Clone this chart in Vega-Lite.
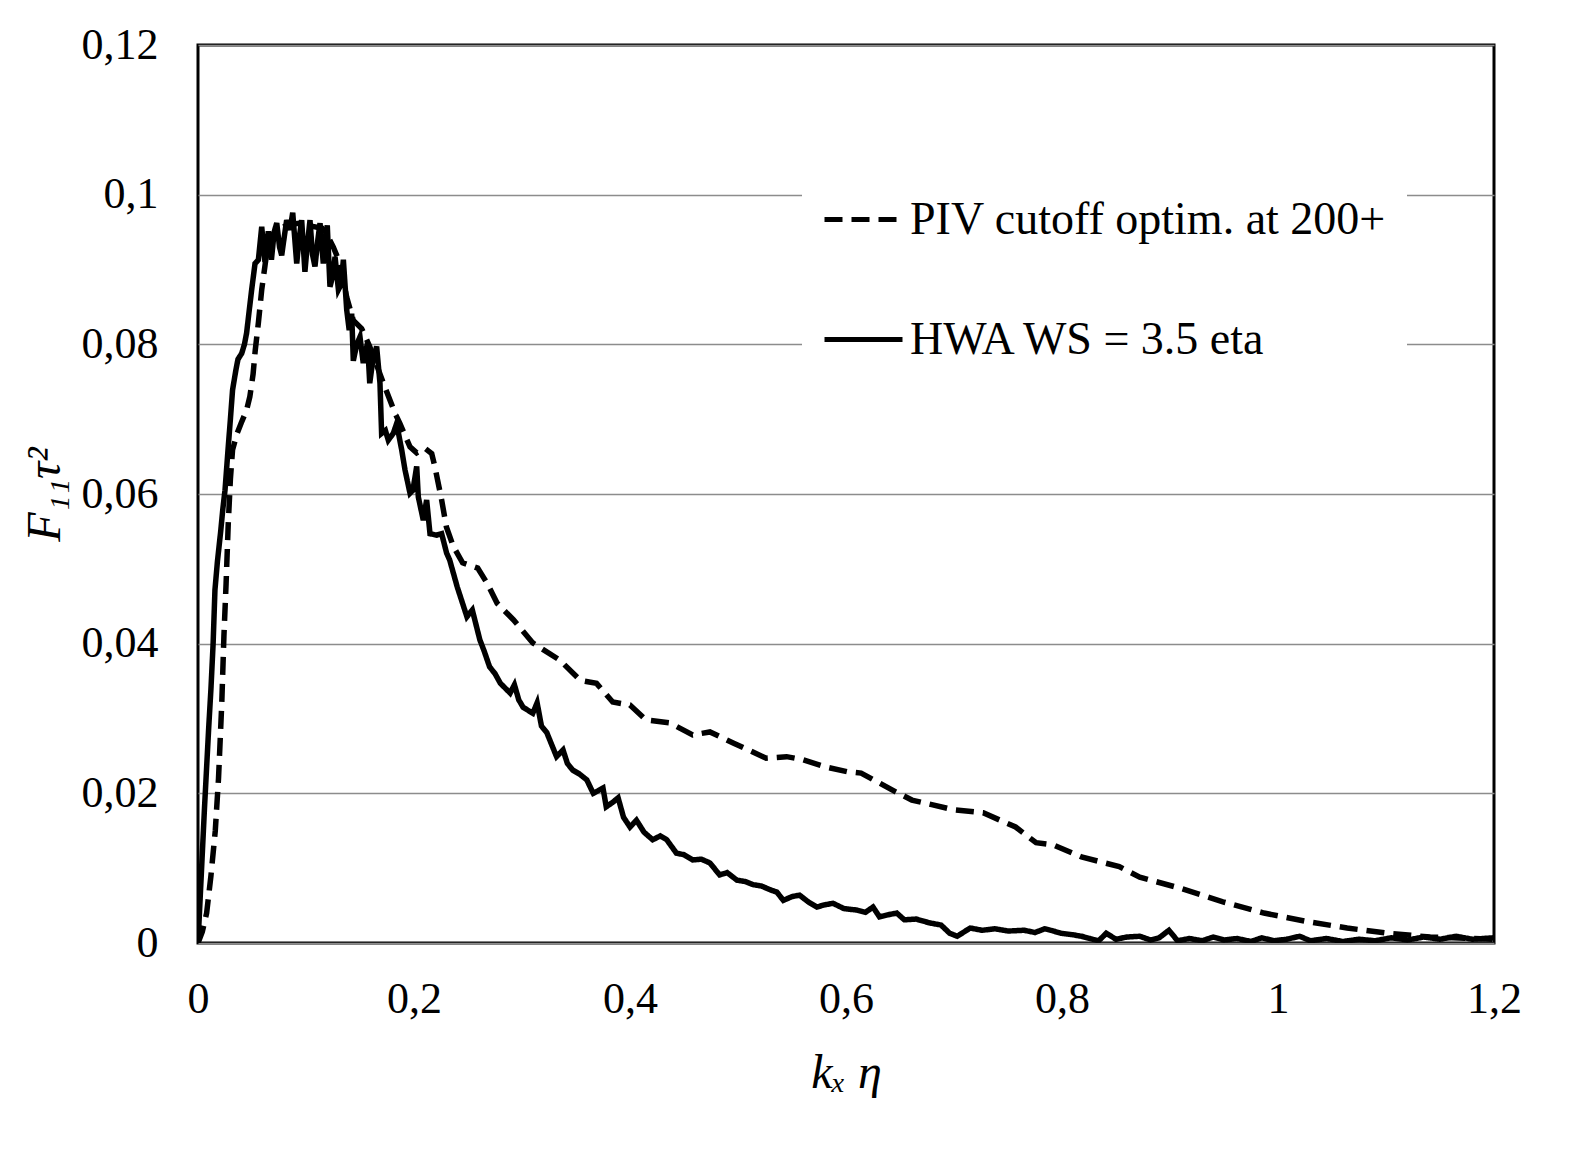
{
  "$schema": "https://vega.github.io/schema/vega-lite/v6.json",
  "width": 1296,
  "height": 898,
  "autosize": {"type": "none"},
  "padding": {"left": 198, "top": 45, "right": 77, "bottom": 217},
  "background": "white",
  "config": {
    "font": "Liberation Serif",
    "view": {"stroke": "black", "strokeWidth": 3},
    "axis": {
      "labelFont": "Liberation Serif",
      "labelFontSize": 44,
      "labelColor": "black",
      "labelFlush": false,
      "titleFont": "Liberation Serif",
      "titleFontSize": 48,
      "titleFontStyle": "italic",
      "titleFontWeight": "normal",
      "titleColor": "black",
      "ticks": false,
      "domain": false
    },
    "legend": {"labelFont": "Liberation Serif"}
  },
  "datasets": {
    "spectra": [
      {"s": "HWA WS = 3.5 eta", "k": 0, "F": 0},
      {"s": "HWA WS = 3.5 eta", "k": 0.002, "F": 0.006},
      {"s": "HWA WS = 3.5 eta", "k": 0.004, "F": 0.012},
      {"s": "HWA WS = 3.5 eta", "k": 0.006, "F": 0.018},
      {"s": "HWA WS = 3.5 eta", "k": 0.008, "F": 0.0235},
      {"s": "HWA WS = 3.5 eta", "k": 0.010, "F": 0.029},
      {"s": "HWA WS = 3.5 eta", "k": 0.012, "F": 0.034},
      {"s": "HWA WS = 3.5 eta", "k": 0.014, "F": 0.040},
      {"s": "HWA WS = 3.5 eta", "k": 0.0157, "F": 0.0472},
      {"s": "HWA WS = 3.5 eta", "k": 0.018, "F": 0.051},
      {"s": "HWA WS = 3.5 eta", "k": 0.021, "F": 0.055},
      {"s": "HWA WS = 3.5 eta", "k": 0.023, "F": 0.058},
      {"s": "HWA WS = 3.5 eta", "k": 0.025, "F": 0.0605},
      {"s": "HWA WS = 3.5 eta", "k": 0.028, "F": 0.0663},
      {"s": "HWA WS = 3.5 eta", "k": 0.030, "F": 0.070},
      {"s": "HWA WS = 3.5 eta", "k": 0.032, "F": 0.0739},
      {"s": "HWA WS = 3.5 eta", "k": 0.035, "F": 0.0765},
      {"s": "HWA WS = 3.5 eta", "k": 0.037, "F": 0.078},
      {"s": "HWA WS = 3.5 eta", "k": 0.0405, "F": 0.0788},
      {"s": "HWA WS = 3.5 eta", "k": 0.043, "F": 0.080},
      {"s": "HWA WS = 3.5 eta", "k": 0.045, "F": 0.0815},
      {"s": "HWA WS = 3.5 eta", "k": 0.047, "F": 0.084},
      {"s": "HWA WS = 3.5 eta", "k": 0.0497, "F": 0.0873},
      {"s": "HWA WS = 3.5 eta", "k": 0.0528, "F": 0.0908},
      {"s": "HWA WS = 3.5 eta", "k": 0.0559, "F": 0.0913},
      {"s": "HWA WS = 3.5 eta", "k": 0.059, "F": 0.0957},
      {"s": "HWA WS = 3.5 eta", "k": 0.062, "F": 0.091},
      {"s": "HWA WS = 3.5 eta", "k": 0.0651, "F": 0.0951},
      {"s": "HWA WS = 3.5 eta", "k": 0.068, "F": 0.0913},
      {"s": "HWA WS = 3.5 eta", "k": 0.0705, "F": 0.095},
      {"s": "HWA WS = 3.5 eta", "k": 0.0729, "F": 0.0962},
      {"s": "HWA WS = 3.5 eta", "k": 0.0755, "F": 0.093},
      {"s": "HWA WS = 3.5 eta", "k": 0.0775, "F": 0.0919},
      {"s": "HWA WS = 3.5 eta", "k": 0.080, "F": 0.0945},
      {"s": "HWA WS = 3.5 eta", "k": 0.0821, "F": 0.0966},
      {"s": "HWA WS = 3.5 eta", "k": 0.0852, "F": 0.0953},
      {"s": "HWA WS = 3.5 eta", "k": 0.0877, "F": 0.0976},
      {"s": "HWA WS = 3.5 eta", "k": 0.0914, "F": 0.0908},
      {"s": "HWA WS = 3.5 eta", "k": 0.0935, "F": 0.094},
      {"s": "HWA WS = 3.5 eta", "k": 0.096, "F": 0.0966},
      {"s": "HWA WS = 3.5 eta", "k": 0.099, "F": 0.0897},
      {"s": "HWA WS = 3.5 eta", "k": 0.101, "F": 0.093},
      {"s": "HWA WS = 3.5 eta", "k": 0.1037, "F": 0.0966},
      {"s": "HWA WS = 3.5 eta", "k": 0.106, "F": 0.092},
      {"s": "HWA WS = 3.5 eta", "k": 0.1083, "F": 0.0904},
      {"s": "HWA WS = 3.5 eta", "k": 0.111, "F": 0.094},
      {"s": "HWA WS = 3.5 eta", "k": 0.113, "F": 0.0962},
      {"s": "HWA WS = 3.5 eta", "k": 0.116, "F": 0.0908},
      {"s": "HWA WS = 3.5 eta", "k": 0.1197, "F": 0.0959},
      {"s": "HWA WS = 3.5 eta", "k": 0.1222, "F": 0.0877},
      {"s": "HWA WS = 3.5 eta", "k": 0.1245, "F": 0.089},
      {"s": "HWA WS = 3.5 eta", "k": 0.1269, "F": 0.0917},
      {"s": "HWA WS = 3.5 eta", "k": 0.130, "F": 0.0873},
      {"s": "HWA WS = 3.5 eta", "k": 0.1325, "F": 0.088},
      {"s": "HWA WS = 3.5 eta", "k": 0.1346, "F": 0.0913},
      {"s": "HWA WS = 3.5 eta", "k": 0.1377, "F": 0.0846},
      {"s": "HWA WS = 3.5 eta", "k": 0.140, "F": 0.0819},
      {"s": "HWA WS = 3.5 eta", "k": 0.1423, "F": 0.0841},
      {"s": "HWA WS = 3.5 eta", "k": 0.1438, "F": 0.0778},
      {"s": "HWA WS = 3.5 eta", "k": 0.147, "F": 0.080},
      {"s": "HWA WS = 3.5 eta", "k": 0.150, "F": 0.081},
      {"s": "HWA WS = 3.5 eta", "k": 0.153, "F": 0.0775},
      {"s": "HWA WS = 3.5 eta", "k": 0.157, "F": 0.0802},
      {"s": "HWA WS = 3.5 eta", "k": 0.159, "F": 0.0748},
      {"s": "HWA WS = 3.5 eta", "k": 0.162, "F": 0.078},
      {"s": "HWA WS = 3.5 eta", "k": 0.1654, "F": 0.0797},
      {"s": "HWA WS = 3.5 eta", "k": 0.1685, "F": 0.0748},
      {"s": "HWA WS = 3.5 eta", "k": 0.170, "F": 0.0681},
      {"s": "HWA WS = 3.5 eta", "k": 0.1735, "F": 0.0685},
      {"s": "HWA WS = 3.5 eta", "k": 0.1762, "F": 0.0672},
      {"s": "HWA WS = 3.5 eta", "k": 0.1808, "F": 0.0681},
      {"s": "HWA WS = 3.5 eta", "k": 0.1839, "F": 0.0694},
      {"s": "HWA WS = 3.5 eta", "k": 0.1886, "F": 0.0659},
      {"s": "HWA WS = 3.5 eta", "k": 0.1917, "F": 0.0632},
      {"s": "HWA WS = 3.5 eta", "k": 0.1963, "F": 0.0601},
      {"s": "HWA WS = 3.5 eta", "k": 0.199, "F": 0.0605},
      {"s": "HWA WS = 3.5 eta", "k": 0.2025, "F": 0.0637},
      {"s": "HWA WS = 3.5 eta", "k": 0.204, "F": 0.0596},
      {"s": "HWA WS = 3.5 eta", "k": 0.2086, "F": 0.0565},
      {"s": "HWA WS = 3.5 eta", "k": 0.2117, "F": 0.0592},
      {"s": "HWA WS = 3.5 eta", "k": 0.2148, "F": 0.0547},
      {"s": "HWA WS = 3.5 eta", "k": 0.221, "F": 0.0545},
      {"s": "HWA WS = 3.5 eta", "k": 0.2256, "F": 0.0547},
      {"s": "HWA WS = 3.5 eta", "k": 0.2302, "F": 0.0521},
      {"s": "HWA WS = 3.5 eta", "k": 0.233, "F": 0.0512},
      {"s": "HWA WS = 3.5 eta", "k": 0.240, "F": 0.0476},
      {"s": "HWA WS = 3.5 eta", "k": 0.249, "F": 0.0436},
      {"s": "HWA WS = 3.5 eta", "k": 0.254, "F": 0.0445},
      {"s": "HWA WS = 3.5 eta", "k": 0.261, "F": 0.0405},
      {"s": "HWA WS = 3.5 eta", "k": 0.265, "F": 0.039},
      {"s": "HWA WS = 3.5 eta", "k": 0.270, "F": 0.0369},
      {"s": "HWA WS = 3.5 eta", "k": 0.275, "F": 0.036},
      {"s": "HWA WS = 3.5 eta", "k": 0.280, "F": 0.0347},
      {"s": "HWA WS = 3.5 eta", "k": 0.289, "F": 0.0334},
      {"s": "HWA WS = 3.5 eta", "k": 0.293, "F": 0.0345},
      {"s": "HWA WS = 3.5 eta", "k": 0.297, "F": 0.0325},
      {"s": "HWA WS = 3.5 eta", "k": 0.301, "F": 0.0315},
      {"s": "HWA WS = 3.5 eta", "k": 0.310, "F": 0.0307},
      {"s": "HWA WS = 3.5 eta", "k": 0.314, "F": 0.0321},
      {"s": "HWA WS = 3.5 eta", "k": 0.318, "F": 0.029},
      {"s": "HWA WS = 3.5 eta", "k": 0.323, "F": 0.0281},
      {"s": "HWA WS = 3.5 eta", "k": 0.332, "F": 0.0249},
      {"s": "HWA WS = 3.5 eta", "k": 0.338, "F": 0.0258},
      {"s": "HWA WS = 3.5 eta", "k": 0.342, "F": 0.024},
      {"s": "HWA WS = 3.5 eta", "k": 0.347, "F": 0.0231},
      {"s": "HWA WS = 3.5 eta", "k": 0.353, "F": 0.0226},
      {"s": "HWA WS = 3.5 eta", "k": 0.360, "F": 0.0218},
      {"s": "HWA WS = 3.5 eta", "k": 0.366, "F": 0.0200},
      {"s": "HWA WS = 3.5 eta", "k": 0.375, "F": 0.0207},
      {"s": "HWA WS = 3.5 eta", "k": 0.378, "F": 0.0182},
      {"s": "HWA WS = 3.5 eta", "k": 0.384, "F": 0.0188},
      {"s": "HWA WS = 3.5 eta", "k": 0.389, "F": 0.0194},
      {"s": "HWA WS = 3.5 eta", "k": 0.394, "F": 0.0168},
      {"s": "HWA WS = 3.5 eta", "k": 0.400, "F": 0.0155},
      {"s": "HWA WS = 3.5 eta", "k": 0.406, "F": 0.0164},
      {"s": "HWA WS = 3.5 eta", "k": 0.413, "F": 0.0148},
      {"s": "HWA WS = 3.5 eta", "k": 0.421, "F": 0.0138},
      {"s": "HWA WS = 3.5 eta", "k": 0.428, "F": 0.0143},
      {"s": "HWA WS = 3.5 eta", "k": 0.434, "F": 0.0138},
      {"s": "HWA WS = 3.5 eta", "k": 0.443, "F": 0.0120},
      {"s": "HWA WS = 3.5 eta", "k": 0.450, "F": 0.0118},
      {"s": "HWA WS = 3.5 eta", "k": 0.458, "F": 0.0111},
      {"s": "HWA WS = 3.5 eta", "k": 0.466, "F": 0.0112},
      {"s": "HWA WS = 3.5 eta", "k": 0.474, "F": 0.0107},
      {"s": "HWA WS = 3.5 eta", "k": 0.483, "F": 0.0091},
      {"s": "HWA WS = 3.5 eta", "k": 0.490, "F": 0.0094},
      {"s": "HWA WS = 3.5 eta", "k": 0.499, "F": 0.0084},
      {"s": "HWA WS = 3.5 eta", "k": 0.507, "F": 0.0082},
      {"s": "HWA WS = 3.5 eta", "k": 0.514, "F": 0.0078},
      {"s": "HWA WS = 3.5 eta", "k": 0.522, "F": 0.0076},
      {"s": "HWA WS = 3.5 eta", "k": 0.530, "F": 0.0071},
      {"s": "HWA WS = 3.5 eta", "k": 0.536, "F": 0.0068},
      {"s": "HWA WS = 3.5 eta", "k": 0.542, "F": 0.0057},
      {"s": "HWA WS = 3.5 eta", "k": 0.550, "F": 0.0062},
      {"s": "HWA WS = 3.5 eta", "k": 0.557, "F": 0.0064},
      {"s": "HWA WS = 3.5 eta", "k": 0.565, "F": 0.0055},
      {"s": "HWA WS = 3.5 eta", "k": 0.573, "F": 0.0048},
      {"s": "HWA WS = 3.5 eta", "k": 0.580, "F": 0.0051},
      {"s": "HWA WS = 3.5 eta", "k": 0.588, "F": 0.0053},
      {"s": "HWA WS = 3.5 eta", "k": 0.598, "F": 0.0046},
      {"s": "HWA WS = 3.5 eta", "k": 0.610, "F": 0.0044},
      {"s": "HWA WS = 3.5 eta", "k": 0.618, "F": 0.0041},
      {"s": "HWA WS = 3.5 eta", "k": 0.625, "F": 0.0048},
      {"s": "HWA WS = 3.5 eta", "k": 0.631, "F": 0.0035},
      {"s": "HWA WS = 3.5 eta", "k": 0.640, "F": 0.0038},
      {"s": "HWA WS = 3.5 eta", "k": 0.647, "F": 0.0040},
      {"s": "HWA WS = 3.5 eta", "k": 0.654, "F": 0.0031},
      {"s": "HWA WS = 3.5 eta", "k": 0.665, "F": 0.0032},
      {"s": "HWA WS = 3.5 eta", "k": 0.677, "F": 0.0027},
      {"s": "HWA WS = 3.5 eta", "k": 0.688, "F": 0.0024},
      {"s": "HWA WS = 3.5 eta", "k": 0.696, "F": 0.0013},
      {"s": "HWA WS = 3.5 eta", "k": 0.703, "F": 0.0009},
      {"s": "HWA WS = 3.5 eta", "k": 0.715, "F": 0.002},
      {"s": "HWA WS = 3.5 eta", "k": 0.726, "F": 0.0017},
      {"s": "HWA WS = 3.5 eta", "k": 0.738, "F": 0.0019},
      {"s": "HWA WS = 3.5 eta", "k": 0.750, "F": 0.0016},
      {"s": "HWA WS = 3.5 eta", "k": 0.765, "F": 0.0017},
      {"s": "HWA WS = 3.5 eta", "k": 0.775, "F": 0.0014},
      {"s": "HWA WS = 3.5 eta", "k": 0.784, "F": 0.0019},
      {"s": "HWA WS = 3.5 eta", "k": 0.792, "F": 0.0016},
      {"s": "HWA WS = 3.5 eta", "k": 0.799, "F": 0.0013},
      {"s": "HWA WS = 3.5 eta", "k": 0.810, "F": 0.0011},
      {"s": "HWA WS = 3.5 eta", "k": 0.818, "F": 0.0009},
      {"s": "HWA WS = 3.5 eta", "k": 0.826, "F": 0.0006},
      {"s": "HWA WS = 3.5 eta", "k": 0.834, "F": 0.0003},
      {"s": "HWA WS = 3.5 eta", "k": 0.841, "F": 0.0013},
      {"s": "HWA WS = 3.5 eta", "k": 0.850, "F": 0.0005},
      {"s": "HWA WS = 3.5 eta", "k": 0.860, "F": 0.0008},
      {"s": "HWA WS = 3.5 eta", "k": 0.872, "F": 0.0009},
      {"s": "HWA WS = 3.5 eta", "k": 0.882, "F": 0.0004},
      {"s": "HWA WS = 3.5 eta", "k": 0.890, "F": 0.0007},
      {"s": "HWA WS = 3.5 eta", "k": 0.899, "F": 0.0017},
      {"s": "HWA WS = 3.5 eta", "k": 0.907, "F": 0.0003},
      {"s": "HWA WS = 3.5 eta", "k": 0.918, "F": 0.0006},
      {"s": "HWA WS = 3.5 eta", "k": 0.930, "F": 0.0003},
      {"s": "HWA WS = 3.5 eta", "k": 0.940, "F": 0.0008},
      {"s": "HWA WS = 3.5 eta", "k": 0.950, "F": 0.0004},
      {"s": "HWA WS = 3.5 eta", "k": 0.962, "F": 0.0006},
      {"s": "HWA WS = 3.5 eta", "k": 0.975, "F": 0.0002},
      {"s": "HWA WS = 3.5 eta", "k": 0.985, "F": 0.0007},
      {"s": "HWA WS = 3.5 eta", "k": 0.996, "F": 0.0003},
      {"s": "HWA WS = 3.5 eta", "k": 1.008, "F": 0.0005},
      {"s": "HWA WS = 3.5 eta", "k": 1.020, "F": 0.0009},
      {"s": "HWA WS = 3.5 eta", "k": 1.030, "F": 0.0003},
      {"s": "HWA WS = 3.5 eta", "k": 1.045, "F": 0.0006},
      {"s": "HWA WS = 3.5 eta", "k": 1.060, "F": 0.0002},
      {"s": "HWA WS = 3.5 eta", "k": 1.075, "F": 0.0005},
      {"s": "HWA WS = 3.5 eta", "k": 1.090, "F": 0.0003},
      {"s": "HWA WS = 3.5 eta", "k": 1.105, "F": 0.0007},
      {"s": "HWA WS = 3.5 eta", "k": 1.120, "F": 0.0004},
      {"s": "HWA WS = 3.5 eta", "k": 1.135, "F": 0.0008},
      {"s": "HWA WS = 3.5 eta", "k": 1.150, "F": 0.0005},
      {"s": "HWA WS = 3.5 eta", "k": 1.165, "F": 0.0009},
      {"s": "HWA WS = 3.5 eta", "k": 1.180, "F": 0.0005},
      {"s": "HWA WS = 3.5 eta", "k": 1.200, "F": 0.0007},
      {"s": "PIV cutoff optim. at 200+", "k": 0, "F": 0},
      {"s": "PIV cutoff optim. at 200+", "k": 0.004, "F": 0.0015},
      {"s": "PIV cutoff optim. at 200+", "k": 0.008, "F": 0.004},
      {"s": "PIV cutoff optim. at 200+", "k": 0.012, "F": 0.009},
      {"s": "PIV cutoff optim. at 200+", "k": 0.016, "F": 0.015},
      {"s": "PIV cutoff optim. at 200+", "k": 0.019, "F": 0.022},
      {"s": "PIV cutoff optim. at 200+", "k": 0.022, "F": 0.032},
      {"s": "PIV cutoff optim. at 200+", "k": 0.024, "F": 0.041},
      {"s": "PIV cutoff optim. at 200+", "k": 0.026, "F": 0.048},
      {"s": "PIV cutoff optim. at 200+", "k": 0.028, "F": 0.056},
      {"s": "PIV cutoff optim. at 200+", "k": 0.030, "F": 0.062},
      {"s": "PIV cutoff optim. at 200+", "k": 0.032, "F": 0.0659},
      {"s": "PIV cutoff optim. at 200+", "k": 0.036, "F": 0.068},
      {"s": "PIV cutoff optim. at 200+", "k": 0.040, "F": 0.0695},
      {"s": "PIV cutoff optim. at 200+", "k": 0.045, "F": 0.0712},
      {"s": "PIV cutoff optim. at 200+", "k": 0.048, "F": 0.073},
      {"s": "PIV cutoff optim. at 200+", "k": 0.051, "F": 0.076},
      {"s": "PIV cutoff optim. at 200+", "k": 0.053, "F": 0.0792},
      {"s": "PIV cutoff optim. at 200+", "k": 0.056, "F": 0.083},
      {"s": "PIV cutoff optim. at 200+", "k": 0.059, "F": 0.0873},
      {"s": "PIV cutoff optim. at 200+", "k": 0.062, "F": 0.0905},
      {"s": "PIV cutoff optim. at 200+", "k": 0.064, "F": 0.0926},
      {"s": "PIV cutoff optim. at 200+", "k": 0.068, "F": 0.0945},
      {"s": "PIV cutoff optim. at 200+", "k": 0.075, "F": 0.0955},
      {"s": "PIV cutoff optim. at 200+", "k": 0.085, "F": 0.096},
      {"s": "PIV cutoff optim. at 200+", "k": 0.095, "F": 0.0962},
      {"s": "PIV cutoff optim. at 200+", "k": 0.105, "F": 0.0958},
      {"s": "PIV cutoff optim. at 200+", "k": 0.115, "F": 0.0955},
      {"s": "PIV cutoff optim. at 200+", "k": 0.120, "F": 0.0945},
      {"s": "PIV cutoff optim. at 200+", "k": 0.1253, "F": 0.093},
      {"s": "PIV cutoff optim. at 200+", "k": 0.1315, "F": 0.0908},
      {"s": "PIV cutoff optim. at 200+", "k": 0.1377, "F": 0.0863},
      {"s": "PIV cutoff optim. at 200+", "k": 0.1438, "F": 0.0832},
      {"s": "PIV cutoff optim. at 200+", "k": 0.1515, "F": 0.0821},
      {"s": "PIV cutoff optim. at 200+", "k": 0.159, "F": 0.0797},
      {"s": "PIV cutoff optim. at 200+", "k": 0.166, "F": 0.077},
      {"s": "PIV cutoff optim. at 200+", "k": 0.173, "F": 0.0743},
      {"s": "PIV cutoff optim. at 200+", "k": 0.1824, "F": 0.0708},
      {"s": "PIV cutoff optim. at 200+", "k": 0.187, "F": 0.0694},
      {"s": "PIV cutoff optim. at 200+", "k": 0.1963, "F": 0.0663},
      {"s": "PIV cutoff optim. at 200+", "k": 0.2025, "F": 0.0655},
      {"s": "PIV cutoff optim. at 200+", "k": 0.2102, "F": 0.0661},
      {"s": "PIV cutoff optim. at 200+", "k": 0.2164, "F": 0.0654},
      {"s": "PIV cutoff optim. at 200+", "k": 0.2194, "F": 0.0636},
      {"s": "PIV cutoff optim. at 200+", "k": 0.2256, "F": 0.0592},
      {"s": "PIV cutoff optim. at 200+", "k": 0.230, "F": 0.0556},
      {"s": "PIV cutoff optim. at 200+", "k": 0.2364, "F": 0.053},
      {"s": "PIV cutoff optim. at 200+", "k": 0.245, "F": 0.0508},
      {"s": "PIV cutoff optim. at 200+", "k": 0.259, "F": 0.0501},
      {"s": "PIV cutoff optim. at 200+", "k": 0.268, "F": 0.048},
      {"s": "PIV cutoff optim. at 200+", "k": 0.277, "F": 0.0454},
      {"s": "PIV cutoff optim. at 200+", "k": 0.292, "F": 0.0432},
      {"s": "PIV cutoff optim. at 200+", "k": 0.310, "F": 0.0401},
      {"s": "PIV cutoff optim. at 200+", "k": 0.335, "F": 0.0378},
      {"s": "PIV cutoff optim. at 200+", "k": 0.354, "F": 0.0351},
      {"s": "PIV cutoff optim. at 200+", "k": 0.369, "F": 0.0347},
      {"s": "PIV cutoff optim. at 200+", "k": 0.384, "F": 0.0322},
      {"s": "PIV cutoff optim. at 200+", "k": 0.400, "F": 0.0318},
      {"s": "PIV cutoff optim. at 200+", "k": 0.415, "F": 0.0298},
      {"s": "PIV cutoff optim. at 200+", "k": 0.437, "F": 0.0294},
      {"s": "PIV cutoff optim. at 200+", "k": 0.458, "F": 0.0278},
      {"s": "PIV cutoff optim. at 200+", "k": 0.474, "F": 0.0282},
      {"s": "PIV cutoff optim. at 200+", "k": 0.496, "F": 0.0267},
      {"s": "PIV cutoff optim. at 200+", "k": 0.526, "F": 0.0247},
      {"s": "PIV cutoff optim. at 200+", "k": 0.545, "F": 0.0249},
      {"s": "PIV cutoff optim. at 200+", "k": 0.560, "F": 0.0245},
      {"s": "PIV cutoff optim. at 200+", "k": 0.582, "F": 0.0235},
      {"s": "PIV cutoff optim. at 200+", "k": 0.601, "F": 0.0229},
      {"s": "PIV cutoff optim. at 200+", "k": 0.614, "F": 0.0227},
      {"s": "PIV cutoff optim. at 200+", "k": 0.646, "F": 0.0202},
      {"s": "PIV cutoff optim. at 200+", "k": 0.661, "F": 0.0191},
      {"s": "PIV cutoff optim. at 200+", "k": 0.700, "F": 0.0178},
      {"s": "PIV cutoff optim. at 200+", "k": 0.727, "F": 0.0174},
      {"s": "PIV cutoff optim. at 200+", "k": 0.757, "F": 0.0155},
      {"s": "PIV cutoff optim. at 200+", "k": 0.776, "F": 0.0134},
      {"s": "PIV cutoff optim. at 200+", "k": 0.792, "F": 0.0131},
      {"s": "PIV cutoff optim. at 200+", "k": 0.818, "F": 0.0115},
      {"s": "PIV cutoff optim. at 200+", "k": 0.853, "F": 0.0102},
      {"s": "PIV cutoff optim. at 200+", "k": 0.872, "F": 0.0088},
      {"s": "PIV cutoff optim. at 200+", "k": 0.910, "F": 0.0073},
      {"s": "PIV cutoff optim. at 200+", "k": 0.949, "F": 0.0055},
      {"s": "PIV cutoff optim. at 200+", "k": 0.987, "F": 0.0040},
      {"s": "PIV cutoff optim. at 200+", "k": 1.026, "F": 0.0029},
      {"s": "PIV cutoff optim. at 200+", "k": 1.064, "F": 0.0020},
      {"s": "PIV cutoff optim. at 200+", "k": 1.102, "F": 0.0013},
      {"s": "PIV cutoff optim. at 200+", "k": 1.141, "F": 0.0008},
      {"s": "PIV cutoff optim. at 200+", "k": 1.200, "F": 0.0005}
    ]
  },
  "data": {"name": "spectra"},
  "mark": {"type": "line", "strokeWidth": 5.5, "color": "black", "clip": true},
  "encoding": {
    "x": {
      "field": "k",
      "type": "quantitative",
      "scale": {"domain": [0, 1.2], "nice": false},
      "axis": {
        "title": "kₓ η",
        "values": [0, 0.2, 0.4, 0.6, 0.8, 1, 1.2],
        "labelExpr": "replace(toString(datum.value), '.', ',')",
        "grid": false,
        "labelPadding": 34,
        "titlePadding": 28
      }
    },
    "y": {
      "field": "F",
      "type": "quantitative",
      "scale": {"domain": [0, 0.12], "nice": false},
      "axis": {
        "title": "F₁₁τ²",
        "values": [0, 0.02, 0.04, 0.06, 0.08, 0.1, 0.12],
        "labelExpr": "replace(toString(datum.value), '.', ',')",
        "grid": true,
        "gridColor": "#8c8c8c",
        "gridWidth": 1.5,
        "labelPadding": 40,
        "titlePadding": 12
      }
    },
    "strokeDash": {
      "field": "s",
      "type": "nominal",
      "scale": {
        "domain": ["PIV cutoff optim. at 200+", "HWA WS = 3.5 eta"],
        "range": [[18, 9], [1, 0]]
      },
      "legend": {
        "title": null,
        "orient": "none",
        "legendX": 604,
        "legendY": 113,
        "fillColor": "white",
        "padding": 20,
        "symbolType": "stroke",
        "symbolSize": 6084,
        "symbolStrokeWidth": 5,
        "symbolStrokeColor": "black",
        "labelFont": "Liberation Serif",
        "labelFontSize": 46,
        "labelColor": "black",
        "labelOffset": 5,
        "labelLimit": 800,
        "rowPadding": 55
      }
    }
  }
}
